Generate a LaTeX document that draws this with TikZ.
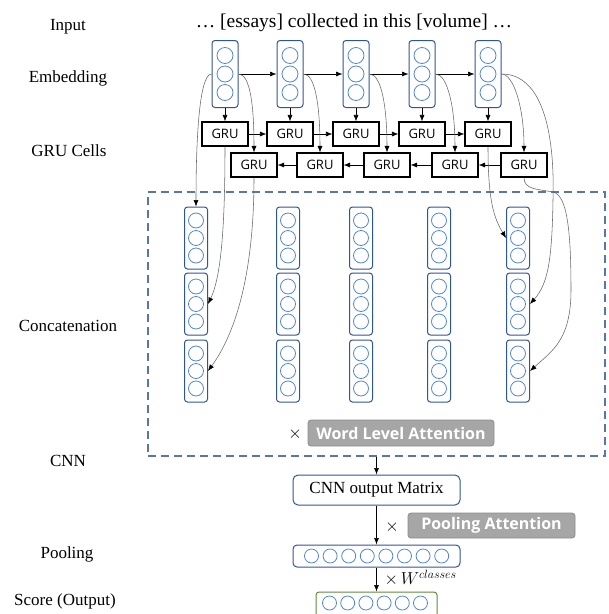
\documentclass[tikz,border=0pt]{standalone}
\usepackage{fontspec}
\setmainfont{Liberation Serif}
\newfontfamily\grufont{Open Sans}
\usetikzlibrary{arrows.meta,calc,positioning}
\definecolor{unitblue}{RGB}{84,134,214}
\definecolor{boxblue}{RGB}{47,85,151}
\definecolor{dashblue}{RGB}{88,118,172}
\definecolor{attfill}{RGB}{166,166,166}
\definecolor{attline}{RGB}{140,140,140}
\definecolor{scoregreen}{RGB}{96,140,60}
\def\colunits(#1)(#2:#3){\foreach \dy in {-#2,0,#2} \draw[unit] ($(#1)+(0,\dy)$) circle (#3pt);}
\tikzset{
	lbl/.style={font=\fontsize{17}{20}\selectfont},
	vecbox/.style={draw=boxblue, line width=1pt, rounded corners=3pt, inner sep=0pt},
	embbox/.style={vecbox, minimum width=26, minimum height=67},
	catbox/.style={vecbox, minimum width=23, minimum height=62},
	unit/.style={draw=unitblue, line width=0.8pt},
	grubox/.style={draw, line width=1.1pt, minimum width=46, minimum height=24, inner sep=0pt, font=\grufont\fontsize{13}{15}\selectfont},
	attbox/.style={fill=attfill, draw=attline, line width=0.8pt, rounded corners=3pt, text=white, inner sep=0pt, font=\grufont\bfseries\fontsize{16}{18}\selectfont},
	dashbox/.style={draw=dashblue, line width=1.2pt, dash pattern=on 8pt off 5pt},
	link/.style={-{Latex[length=6.5pt,width=5pt]}, line width=0.6pt},
	curvelink/.style={-{Latex[length=6.5pt,width=5pt,color=black]}, draw=black!60, line width=0.55pt},
}
\begin{document}
\begin{tikzpicture}[x=1pt,y=-1pt]
			%%%%% START %%%%%
			\useasboundingbox (0,0) rectangle (609,614);
			
			\node[lbl] (lin) at (68,27) {Input};
			\node[lbl] (lemb) at (68,78) {Embedding};
			\node[lbl] (lgru) at (69,151) {GRU Cells};
			\node[lbl] (lcat) at (68,326) {Concatenation};
			\node[lbl] (lcnn) at (68,461) {CNN};
			\node[lbl] (lpool) at (67,554) {Pooling};
			\node[lbl] (lscore) at (65,601) {Score (Output)};
			
			\node[font=\fontsize{19.5}{24}\selectfont] (sent) at (354,23) {… [essays] collected in this [volume] …};
			
			\foreach \n/\x in {1/225,2/290,3/356,4/422,5/488}{
				\node[embbox] (e\n) at (\x,74) {};
				\colunits(e\n)(18.5:8)
			}
			\foreach \n/\x in {1/225,2/290,3/356,4/422,5/488}
				\node[grubox] (f\n) at (\x,134) {GRU};
			\foreach \n/\x in {1/254,2/320,3/387,4/455,5/524}
				\node[grubox] (b\n) at (\x,165) {GRU};
			
			\foreach \i [count=\j from 2] in {1,...,4}{
				\draw[link] (e\i) -- (e\j);
				\draw[link] (f\i) -- (f\j);
				\draw[link] (b\j) -- (b\i);
			}
			\foreach \i in {1,...,5}{
				\draw[link] (e\i.south) -- (f\i.north);
				\draw[curvelink] (e\i.east) .. controls +(12,0) and +(0,-45) .. (b\i.north);
			}
			
			\node[dashbox, minimum width=457, minimum height=264] (cnnarea) at (376.5,324) {};
			
			\foreach \n/\x in {1/196,2/288,3/361,4/439,5/518}
				\foreach \m/\yy in {1/238,2/304,3/371}{
					\node[catbox] (c\n\m) at (\x,\yy) {};
					\colunits(c\n\m)(17.5:7.5)
				}
			
			\draw[curvelink] (e1.west) .. controls +(-12,0) and +(0,-70) .. (c11.north);
			\draw[curvelink] (f1.south) .. controls +(0,90) and +(12,-25) .. (c12.east);
			\draw[curvelink] (b1.south) .. controls +(0,110) and +(22,-30) .. (c13.east);
			\draw[curvelink] (f5.south) .. controls +(0,55) and +(-12,-20) .. (c51.west);
			\coordinate (via1) at (553,200);
			\coordinate (via2) at (553,192);
			\coordinate (via3) at (571,290);
			\draw[curvelink] (e5.east) .. controls +(40,0) and +(2,-70) .. (via1) .. controls +(-1,60) and +(18,-20) .. (c52.east);
			\draw[curvelink] (b5.south) .. controls +(0,12) and +(-16,-3) .. (via2) .. controls +(14,3) and +(0,-60) .. (via3) .. controls +(0,50) and +(22,-20) .. (c53.east);
			
			\node[lbl] (wx) at (295,434) {$\times$};
			\node[attbox, minimum width=186, minimum height=26] (wla) at (401,433) {Word Level Attention};
			
			\node[vecbox, rounded corners=5pt, minimum width=167, minimum height=30, lbl] (mat) at (376.5,490) {CNN output Matrix};
			\draw[link] (cnnarea.south) -- (mat.north);
			
			\node[vecbox, rounded corners=4pt, minimum width=167, minimum height=22] (pool) at (376.5,556) {};
			\foreach \k in {0,...,7}
				\draw[unit] ($(pool.west)+(19+18.6*\k,0)$) circle (7pt);
			\draw[link] (mat) -- (pool);
			\node[lbl] (px) at (392,527) {$\times$};
			\node[attbox, minimum width=167, minimum height=25] (patt) at (491.5,525.5) {Pooling Attention};
			
			\node[vecbox, draw=scoregreen, minimum width=121, minimum height=28] (score) at (376.5,606) {};
			\foreach \k in {0,...,5}
				\draw[unit] ($(score.west)+(14+18.2*\k,-3)$) circle (7pt);
			\draw[link] (pool) -- (score);
			\node[lbl, anchor=west] (wcls) at (381,578) {$\times\, W^{classes}$};
			
			%%%%% END %%%%%
		\end{tikzpicture}
\end{document}
